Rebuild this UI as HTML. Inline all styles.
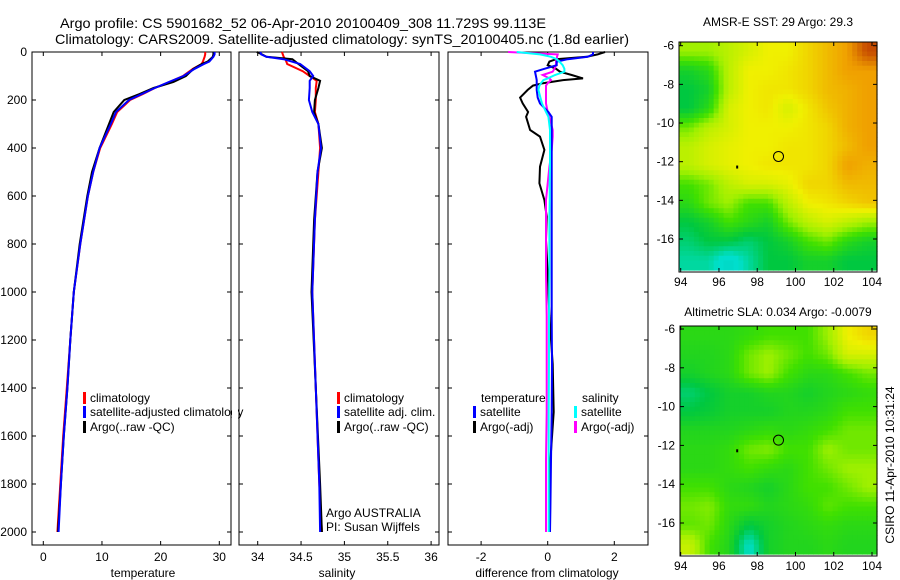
<!DOCTYPE html>
<html><head><meta charset="utf-8"><style>
body{margin:0;background:#fff}
svg{display:block;font-family:"Liberation Sans",sans-serif}
</style></head><body>
<svg id="c" width="900" height="580" viewBox="0 0 900 580">
<text x="60" y="28" font-size="14" textLength="486" lengthAdjust="spacingAndGlyphs">Argo profile: CS 5901682_52 06-Apr-2010 20100409_308 11.729S 99.113E</text>
<text x="55" y="44" font-size="14" textLength="574" lengthAdjust="spacingAndGlyphs">Climatology: CARS2009. Satellite-adjusted climatology: synTS_20100405.nc (1.8d earlier)</text>
<text x="778" y="26" font-size="12" text-anchor="middle">AMSR-E SST: 29 Argo: 29.3</text>
<text x="778" y="316" font-size="12" text-anchor="middle">Altimetric SLA: 0.034 Argo: -0.0079</text>
<text transform="translate(894,465) rotate(-90)" font-size="12" text-anchor="middle">CSIRO 11-Apr-2010 10:31:24</text>
</svg>
<script>
// ---------- data ----------
const depthsT=[0,10,20,40,50,70,100,125,150,175,200,250,300,400,500,600,800,1000,1200,1400,1600,1800,2000];
const tempClim=[27.6,27.6,27.5,27.2,27.0,25.5,23.8,21.5,19.0,17.0,14.8,12.6,11.7,9.7,8.5,7.6,6.3,5.2,4.6,4.0,3.4,2.9,2.4];
const tempSat=[29.2,29.2,29.0,28.3,27.4,25.8,23.9,21.4,19.0,16.8,14.6,12.4,11.5,9.6,8.5,7.6,6.3,5.2,4.6,4.1,3.5,3.0,2.6];
const tempArgo=[29.0,29.0,28.9,28.0,27.0,25.6,24.3,22.2,18.8,16.4,13.8,12.0,11.2,9.6,8.3,7.5,6.2,5.2,4.6,4.1,3.5,3.0,2.5];
const depthsS=[0,10,20,30,50,80,100,120,150,200,250,300,400,500,700,1000,1400,1800,2000];
const salClim=[34.28,34.29,34.30,34.32,34.34,34.52,34.60,34.68,34.67,34.67,34.66,34.70,34.72,34.70,34.66,34.63,34.67,34.71,34.74];
const salSat=[34.03,34.04,34.10,34.30,34.49,34.60,34.64,34.60,34.60,34.59,34.63,34.70,34.73,34.69,34.66,34.63,34.67,34.71,34.72];
const salArgo=[33.99,34.05,34.10,34.40,34.47,34.58,34.60,34.72,34.70,34.66,34.65,34.70,34.74,34.69,34.65,34.62,34.67,34.72,34.74];
const depthsD=[0,10,20,30,40,55,70,82,96,110,117,130,140,158,190,214,250,270,325,353,408,478,547,617,686,783,922,1100,1300,1500,1700,1900,2000];
const dTempSat=[1.36,1.36,1.2,0.6,0.27,0.27,-0.1,-0.38,-0.36,-0.34,-0.33,-0.33,-0.33,-0.33,-0.3,-0.23,0.02,0.12,0.12,0.12,0.12,0.12,0.12,0.12,0.12,0.12,0.12,0.12,0.13,0.12,0.1,0.08,0.07];
const dTempArgo=[1.72,1.5,1.17,0.25,0.05,0.0,0.25,0.37,0.72,1.06,0.46,-0.14,-0.44,-0.6,-0.83,-0.75,-0.59,-0.65,-0.53,-0.23,-0.1,-0.23,-0.25,-0.1,-0.03,-0.05,0.0,0.05,0.15,0.18,0.08,0.05,0.05];
const dSalSat=[-0.93,-0.23,0.1,0.27,0.35,0.45,0.5,0.5,0.22,0.0,-0.13,-0.2,-0.25,-0.28,-0.22,-0.17,-0.05,0.02,0.07,0.07,0.07,0.07,0.06,0.06,0.05,0.05,0.05,0.04,0.04,0.03,0.03,0.03,0.03];
const dSalArgo=[-1.19,0.3,0.28,0.27,0.25,0.25,0.2,0.15,-0.15,0.05,0.1,0.0,-0.05,-0.05,-0.05,-0.05,0.0,0.05,0.15,0.15,0.12,0.05,0.0,-0.05,-0.05,-0.05,-0.05,-0.03,-0.03,-0.03,-0.05,-0.05,-0.05];
const depthTicks=[0,200,400,600,800,1000,1200,1400,1600,1800,2000];
const tempTicks=[0,10,20,30];
const salTicks=[34,34.5,35,35.5,36];
const salTickLabels=["34","34.5","35","35.5","36"];
const diffTicks=[-2,0,2];
const lonTicks=[94,96,98,100,102,104];
const latTicks=[-6,-8,-10,-12,-14,-16];
const sstGrid=[
[0.55,0.55,0.6,0.65,0.7,0.7,0.75,0.8,0.85,0.95],
[0.35,0.4,0.6,0.7,0.7,0.72,0.75,0.8,0.85,0.85],
[0.3,0.35,0.6,0.7,0.72,0.72,0.75,0.8,0.82,0.85],
[0.3,0.4,0.65,0.7,0.72,0.65,0.72,0.78,0.82,0.85],
[0.5,0.6,0.65,0.7,0.7,0.7,0.72,0.75,0.82,0.85],
[0.6,0.65,0.68,0.7,0.7,0.72,0.72,0.75,0.8,0.85],
[0.6,0.65,0.68,0.7,0.72,0.72,0.72,0.75,0.85,0.82],
[0.45,0.5,0.6,0.65,0.65,0.68,0.75,0.75,0.8,0.8],
[0.4,0.5,0.55,0.45,0.45,0.6,0.7,0.72,0.75,0.78],
[0.3,0.35,0.45,0.4,0.35,0.5,0.6,0.65,0.6,0.55],
[0.25,0.3,0.3,0.25,0.3,0.35,0.45,0.5,0.4,0.35],
[0.2,0.2,0.1,0.2,0.3,0.3,0.35,0.35,0.3,0.3]];
const slaGrid=[
[0.4,0.4,0.4,0.42,0.45,0.45,0.45,0.55,0.7,0.75],
[0.38,0.38,0.4,0.5,0.55,0.5,0.45,0.5,0.65,0.65],
[0.35,0.38,0.4,0.5,0.55,0.45,0.4,0.4,0.45,0.5],
[0.25,0.3,0.35,0.35,0.38,0.38,0.35,0.38,0.4,0.42],
[0.3,0.32,0.35,0.35,0.35,0.38,0.38,0.4,0.45,0.45],
[0.38,0.38,0.38,0.4,0.42,0.4,0.42,0.45,0.5,0.5],
[0.4,0.4,0.42,0.5,0.52,0.45,0.45,0.55,0.5,0.5],
[0.4,0.4,0.42,0.45,0.42,0.4,0.45,0.5,0.55,0.55],
[0.45,0.45,0.4,0.38,0.35,0.4,0.45,0.45,0.5,0.55],
[0.5,0.52,0.42,0.42,0.38,0.4,0.42,0.48,0.45,0.45],
[0.48,0.5,0.4,0.3,0.35,0.38,0.4,0.42,0.4,0.4],
[0.62,0.45,0.38,0.15,0.35,0.38,0.38,0.4,0.38,0.38]];
const profLon=99.113, profLat=-11.729;

// ---------- helpers ----------
const svg=document.getElementById('c');
const NS='http://www.w3.org/2000/svg';
function mk(tag,attrs,parent){const e=document.createElementNS(NS,tag);for(const k in attrs)e.setAttribute(k,attrs[k]);(parent||svg).appendChild(e);return e;}
function txt(x,y,s,anchor,size,parent){const t=mk('text',{x:x,y:y,'font-size':size||12,'text-anchor':anchor||'start'},parent);t.textContent=s;return t;}
const Y0=52,YK=0.24;
function yDepth(d){return Y0+d*YK;}
function lin(v0,p0,v1,p1){return v=>p0+(v-v0)*(p1-p0)/(v1-v0);}

function panel(name,L,R,T,B,xs,ticks,labels,yTickLabels){
  const g=mk('g',{});
  
  
  const f=mk('rect',{x:L,y:T,width:R-L,height:B-T,fill:'none',stroke:'#000','stroke-width':1},g);
  
  
  ticks.forEach((v,i)=>{const x=xs(v);
    mk('line',{x1:x,y1:T,x2:x,y2:T+4,stroke:'#000'},g);
    mk('line',{x1:x,y1:B,x2:x,y2:B-4,stroke:'#000'},g);
    const t=txt(x,561,labels[i],'middle',12,g);
    
    
  });
  depthTicks.forEach(d=>{const y=yDepth(d);
    mk('line',{x1:L,y1:y,x2:L+4,y2:y,stroke:'#000'},g);
    mk('line',{x1:R,y1:y,x2:R-4,y2:y,stroke:'#000'},g);
    if(yTickLabels){const t=txt(27,y+4,String(d),'end',12,g);
      
      }
  });
  return g;
}
function series(g,name,depths,vals,xs,color,w){
  const pts=depths.map((d,i)=>xs(vals[i]).toFixed(1)+','+yDepth(d).toFixed(1)).join(' ');
  const p=mk('polyline',{points:pts,fill:'none',stroke:color,'stroke-width':w||2,'stroke-linejoin':'miter'},g);
  
  
}
function legend(g,x,y,color,label,name){
  mk('rect',{x:x,y:y-10,width:3,height:12,fill:color},g);
  const t=txt(x+7,y,label,'start',12,g);
  
  
}

// ---------- panel 1: temperature ----------
const xT=lin(0,43.3,30,219.3);
const g1=panel('temperature-panel',32,231,52,545,xT,tempTicks,tempTicks.map(String),true);
series(g1,'temp-climatology-line',depthsT,tempClim,xT,'#f00');
series(g1,'temp-argo-line',depthsT,tempArgo,xT,'#000');
series(g1,'temp-satellite-line',depthsT,tempSat,xT,'#00f');
const tt=txt(143,577,'temperature','middle',12,g1);

legend(g1,83,402,'#f00','climatology','legend-climatology');
legend(g1,83,416,'#00f','satellite-adjusted climatology','legend-satellite-adjusted');
legend(g1,83,431,'#000','Argo(..raw -QC)','legend-argo');
mk('rect',{x:232,y:390,width:6,height:40,fill:'#fff'});

// ---------- panel 2: salinity ----------
const xS=lin(34,257.7,36,431.1);
const g2=panel('salinity-panel',239,439,52,545,xS,salTicks,salTickLabels,false);
series(g2,'sal-climatology-line',depthsS,salClim,xS,'#f00');
series(g2,'sal-argo-line',depthsS,salArgo,xS,'#000');
series(g2,'sal-satellite-line',depthsS,salSat,xS,'#00f');
const ts=txt(337,577,'salinity','middle',12,g2);

legend(g2,337,402,'#f00','climatology','legend-sal-climatology');
legend(g2,337,416,'#00f','satellite adj. clim.','legend-sal-satellite');
legend(g2,337,431,'#000','Argo(..raw -QC)','legend-sal-argo');
const a1=txt(326,517,'Argo AUSTRALIA','start',12,g2);

const a2=txt(326,531,'PI: Susan Wijffels','start',12,g2);


// ---------- panel 3: differences ----------
const xD=lin(0,547.7,2,614.3);
const g3=panel('difference-panel',448,648,52,545,xD,diffTicks,diffTicks.map(String),false);
series(g3,'diff-temp-argo-line',depthsD,dTempArgo,xD,'#000');
series(g3,'diff-sal-argo-line',depthsD,dSalArgo,xD,'#f0f');
series(g3,'diff-temp-satellite-line',depthsD,dTempSat,xD,'#00f');
series(g3,'diff-sal-satellite-line',depthsD,dSalSat,xD,'#0ff');
const td=txt(547,577,'difference from climatology','middle',12,g3);

const lt=txt(481,402,'temperature','start',12,g3);

legend(g3,473,416,'#00f','satellite','legend-diff-temp-satellite');
legend(g3,473,431,'#000','Argo(-adj)','legend-diff-temp-argo');
const ls=txt(582,402,'salinity','start',12,g3);

legend(g3,574,416,'#0ff','satellite','legend-diff-sal-satellite');
legend(g3,574,431,'#f0f','Argo(-adj)','legend-diff-sal-argo');

// ---------- maps ----------
const cstops=[[0,[0,200,176]],[0.15,[0,224,208]],[0.3,[0,200,64]],[0.45,[64,224,0]],[0.55,[160,240,0]],[0.7,[240,240,0]],[0.85,[240,160,0]],[1,[176,32,0]]];
function cmap(v){for(let i=1;i<cstops.length;i++){if(v<=cstops[i][0]){const a=cstops[i-1],b=cstops[i],t=(v-a[0])/(b[0]-a[0]);
  return 'rgb('+a[1].map((c,j)=>Math.round(c+(b[1][j]-c)*t)).join(',')+')';}}return 'rgb(176,32,0)';}
function map(name,grid,L,R,T,B,lat6y,lat16y){
  const g=mk('g',{});
  
  
  const xL=lin(94,680.7,104,872), yL=lin(-6,lat6y,-16,lat16y);
  const rows=grid.length, cols=grid[0].length;
  // upsample by bilinear to make pixel blocks
  const sub=4, cw=(R-L)/(cols*sub), ch=(B-T)/(rows*sub);
  for(let r=0;r<rows*sub;r++)for(let c=0;c<cols*sub;c++){
    const fr=Math.min(rows-1,Math.max(0,(r+0.5)/sub-0.5)), fc=Math.min(cols-1,Math.max(0,(c+0.5)/sub-0.5));
    const r0=Math.floor(fr),c0=Math.floor(fc),r1=Math.min(rows-1,r0+1),c1=Math.min(cols-1,c0+1),tr=fr-r0,tc=fc-c0;
    const v=grid[r0][c0]*(1-tr)*(1-tc)+grid[r0][c1]*(1-tr)*tc+grid[r1][c0]*tr*(1-tc)+grid[r1][c1]*tr*tc;
    const cell=mk('rect',{x:(L+c*cw).toFixed(2),y:(T+r*ch).toFixed(2),width:(cw+0.6).toFixed(2),height:(ch+0.6).toFixed(2),fill:cmap(v)},g);
    
    
  }
  mk('rect',{x:L,y:T,width:R-L,height:B-T+2,fill:'none',stroke:'#000'},g);
  lonTicks.forEach(v=>{const x=xL(v);
    mk('line',{x1:x,y1:T,x2:x,y2:T+4,stroke:'#000'},g);
    mk('line',{x1:x,y1:B+2,x2:x,y2:B-2,stroke:'#000'},g);
    const t=txt(x,B+16,String(v),'middle',12,g);
    });
  latTicks.forEach(v=>{const y=yL(v);
    mk('line',{x1:L,y1:y,x2:L+4,y2:y,stroke:'#000'},g);
    mk('line',{x1:R,y1:y,x2:R-4,y2:y,stroke:'#000'},g);
    const t=txt(L-5,y+4,String(v),'end',12,g);
    });
  const m=mk('circle',{cx:xL(profLon),cy:yL(profLat),r:5,fill:'none',stroke:'#000'},g);
  
  
  mk('rect',{x:xL(96.9),y:yL(-12.2),width:2,height:3,fill:'#000'},g);
}
map('sst-map',sstGrid,679,877,42,270,45.7,239);
map('sla-map',slaGrid,680,877,326,554,329,523);
</script>
</body></html>
